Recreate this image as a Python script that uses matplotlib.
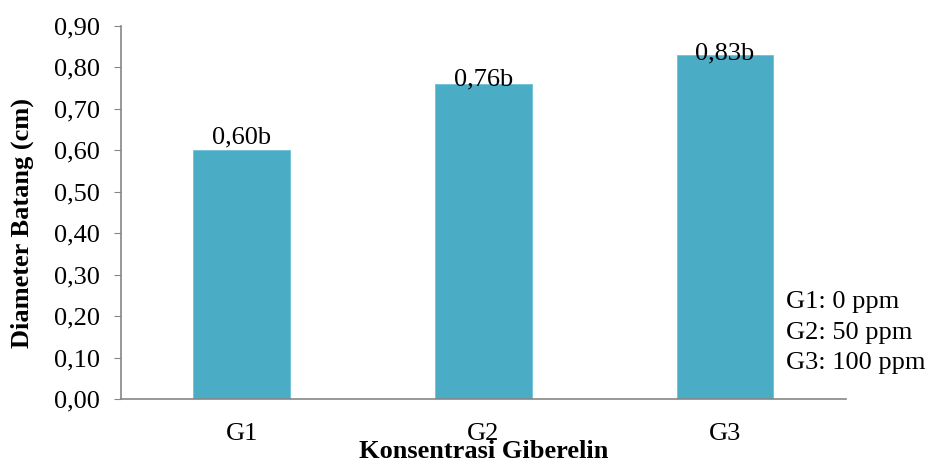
import matplotlib.pyplot as plt

# Data
categories = ["G1", "G2", "G3"]
diameter = [0.60, 0.76, 0.83]
notation = ["b", "b", "b"]
legend_lines = ["G1: 0 ppm", "G2: 50 ppm", "G3: 100 ppm"]
yticks = [0.0, 0.1, 0.2, 0.3, 0.4, 0.5, 0.6, 0.7, 0.8, 0.9]

plt.rcParams['font.family'] = ['Liberation Serif', 'DejaVu Serif']
FS = 19

fig = plt.figure(figsize=(9.28, 4.62), dpi=100)
ax = fig.add_axes([0.1304, 0.1364, 0.7809, 0.8073])

x = range(len(categories))
bars = ax.bar(x, diameter, width=0.4, color="#4BACC6", edgecolor="#6FC0D6", linewidth=0.6)

# value labels (manually nudged like the original)
label_offsets = [5, -0.7, -3]
for b, v, n, off in zip(bars, diameter, notation, label_offsets):
    ax.annotate(f"{v:.2f}".replace(".", ",") + n,
                xy=(b.get_x() + b.get_width() / 2, v),
                xytext=(0, off), textcoords="offset points",
                ha="center", va="baseline", fontsize=FS)

ax.set_xlim(-0.5, 2.5)
ax.set_ylim(0, 0.9)
ax.set_yticks(yticks)
ax.set_yticklabels([f"{t:.2f}".replace(".", ",") for t in yticks], fontsize=FS)
ax.set_xticks(list(x))
ax.set_xticklabels(categories, fontsize=FS)

for s in ["top", "right"]:
    ax.spines[s].set_visible(False)
for s in ["left", "bottom"]:
    ax.spines[s].set_color("#868686")
    ax.spines[s].set_linewidth(1.2)
ax.tick_params(axis="y", length=5, color="#868686", pad=10)
ax.tick_params(axis="x", length=0, pad=17)

ax.set_ylabel("Diameter Batang (cm)", fontsize=FS, fontweight="bold")
ax.yaxis.set_label_coords(-0.136, 0.473)
ax.yaxis.label.set_va("center")
ax.set_xlabel("Konsentrasi Giberelin", fontsize=FS, fontweight="bold")
ax.xaxis.set_label_coords(0.5, -0.158)
ax.xaxis.label.set_va("baseline")

# concentration key on the right
for i, line in enumerate(legend_lines):
    fig.text(0.847, 0.3333 - i * 0.0665, line, fontsize=FS, ha="left", va="baseline")

fig.savefig("out.png", dpi=100)
